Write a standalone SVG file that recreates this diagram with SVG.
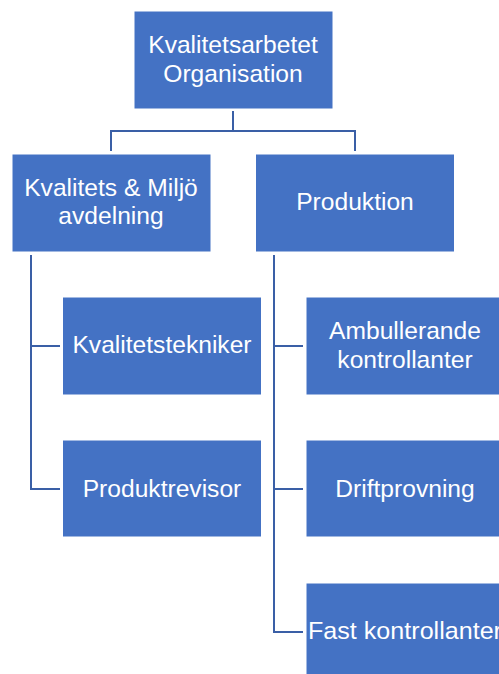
<svg xmlns="http://www.w3.org/2000/svg" width="499" height="674" viewBox="0 0 499 674">
<style>
.box{fill:#4472C4;stroke:#ffffff;stroke-width:1}
.lbl{font-family:"Liberation Sans",Arial,sans-serif;font-size:24.6px;fill:#ffffff;text-anchor:middle}
.conn{fill:none;stroke:#3A5FA6;stroke-width:2}
</style>
<rect width="499" height="674" fill="#ffffff"/>
<g id="connectors">
<path class="conn" d="M233,111 V131 M111,151 V131 H355 V151"/>
<path class="conn" d="M31,255 V489 H60 M31,346 H60"/>
<path class="conn" d="M274,255 V632 H303 M274,346 H303 M274,489 H303"/>
</g>
<g id="n-top"><rect class="box" x="134" y="11" width="199" height="98"/>
<text class="lbl" x="233" y="53">Kvalitetsarbetet</text><text class="lbl" x="233" y="82">Organisation</text></g>
<g id="n-kvalitet"><rect class="box" x="12" y="154" width="199" height="98"/>
<text class="lbl" x="111" y="196">Kvalitets &amp; Miljö</text><text class="lbl" x="111" y="224">avdelning</text></g>
<g id="n-produktion"><rect class="box" x="255.5" y="154" width="199" height="98"/>
<text class="lbl" x="355" y="210">Produktion</text></g>
<g id="n-kvalitetstekniker"><rect class="box" x="62.5" y="297" width="199" height="98"/>
<text class="lbl" x="162" y="353">Kvalitetstekniker</text></g>
<g id="n-produktrevisor"><rect class="box" x="62.5" y="440" width="199" height="97"/>
<text class="lbl" x="162" y="497">Produktrevisor</text></g>
<g id="n-ambullerande"><rect class="box" x="306" y="297" width="199" height="98"/>
<text class="lbl" x="405" y="339">Ambullerande</text><text class="lbl" x="405" y="368">kontrollanter</text></g>
<g id="n-driftprovning"><rect class="box" x="306" y="440" width="199" height="97"/>
<text class="lbl" x="405" y="497">Driftprovning</text></g>
<g id="n-fast"><rect class="box" x="306" y="583" width="199" height="98"/>
<text class="lbl" x="405" y="639" textLength="194" lengthAdjust="spacingAndGlyphs">Fast kontrollanter</text></g>
</svg>
